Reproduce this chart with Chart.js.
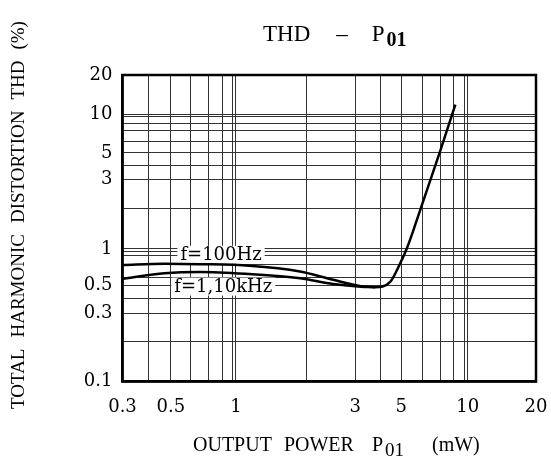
<!DOCTYPE html>
<html>
<head>
<meta charset="utf-8">
<script src="https://cdn.jsdelivr.net/npm/chart.js@4.4.1/dist/chart.umd.min.js"></script>
<style>
html, body { margin: 0; padding: 0; background: #fff; }
#wrap { width: 551px; height: 463px; }
</style>
</head>
<body>
<div id="wrap"><canvas id="graficoTHD"></canvas></div>
<script>
// Potência de saída (mW) e THD (%)
const potencia100Hz = [0.3, 0.46, 0.66, 1.09, 1.82, 2.55, 3.38, 3.9, 4.55, 5.04, 5.39, 5.97, 7.55, 8.82];
const thd100Hz = [0.75, 0.765, 0.76, 0.74, 0.67, 0.58, 0.52, 0.511, 0.56, 0.774, 1.0, 1.64, 5.34, 12.0];
const potencia10kHz = [0.3, 0.46, 0.66, 1.09, 1.82, 2.55, 3.38, 3.9];
const thd10kHz = [0.59, 0.65, 0.665, 0.64, 0.595, 0.54, 0.515, 0.511];

// Linhas da grade como aparecem desenhadas no original
const gradeX = [0.39, 0.49, 0.6, 0.72, 0.83, 0.916, 0.95, 1.94, 3.19, 4.13, 5.09, 6.3, 7.56, 8.66, 9.63, 10];
const gradeY = [0.2, 0.324, 0.417, 0.525, 0.6, 0.75, 0.89, 0.95, 0.99, 2.0, 3.27, 4.2, 5.2, 6.3, 7.6, 8.7, 9.7, 10.1];

// Rótulos dos eixos (posição na grade e texto)
const rotulosXValor = [0.3, 0.49, 0.95, 3.19, 5.09, 10, 20];
const rotulosXTexto = ['0.3', '0.5', '1', '3', '5', '10', '20'];
const rotulosYValor = [0.1, 0.324, 0.525, 0.99, 3.27, 5.2, 10.1, 20];
const rotulosYTexto = ['0.1', '0.3', '0.5', '1', '3', '5', '10', '20'];

const serifa = '"Liberation Serif", "Times New Roman", serif';
const fonteTicks = { family: '"DejaVu Serif", serif', size: 18 };

function juntarTicks(grade, rotulos, min, max) {
    const todos = new Set([min, max, ...grade, ...rotulos]);
    return [...todos].sort((a, b) => a - b).map(v => ({ value: v }));
}

function pontos(xs, ys) {
    return xs.map((x, i) => ({ x: x, y: ys[i] }));
}

// Texto com subscrito (P01)
function textoComSub(ctx, partes, x, y) {
    partes.forEach(p => {
        ctx.font = p.font;
        ctx.fillText(p.t, x + (p.dx || 0), y + (p.dy || 0));
        x += ctx.measureText(p.t).width + (p.dx || 0) + (p.gap || 0);
    });
}

// Moldura, rótulos das curvas e títulos
const anotacoes = [
    { texto: 'f=100Hz', x: 0.816, y: 0.894 },
    { texto: 'f=1,10kHz', x: 0.835, y: 0.516 }
];

const pluginDesenho = {
    id: 'desenho',
    beforeDatasetsDraw(chart) {
        const ctx = chart.ctx;
        ctx.save();
        ctx.font = '18px "DejaVu Serif", serif';
        ctx.textAlign = 'center';
        ctx.textBaseline = 'middle';
        anotacoes.forEach(a => {
            const cx = chart.scales.x.getPixelForValue(a.x);
            const cy = chart.scales.y.getPixelForValue(a.y);
            const w = ctx.measureText(a.texto).width;
            ctx.fillStyle = '#fff';
            ctx.fillRect(cx - w / 2 - 3, cy - 9, w + 6, 18);
            ctx.fillStyle = '#000';
            ctx.fillText(a.texto, cx, cy + 1);
        });
        ctx.restore();
    },
    afterDraw(chart) {
        const ctx = chart.ctx;
        const a = chart.chartArea;
        ctx.save();
        ctx.strokeStyle = '#000';
        ctx.lineWidth = 2.5;
        ctx.strokeRect(a.left, a.top, a.right - a.left, a.bottom - a.top);

        ctx.fillStyle = '#000';
        ctx.textBaseline = 'alphabetic';
        ctx.textAlign = 'left';

        // título
        textoComSub(ctx, [
            { t: 'THD', font: '23px ' + serifa, gap: 26 },
            { t: '\u2013', font: '23px ' + serifa, gap: 24 },
            { t: 'P', font: '23px ' + serifa },
            { t: '01', font: 'bold 20px ' + serifa, dx: 2, dy: 5 }
        ], 263, 41);

        // título do eixo x
        textoComSub(ctx, [
            { t: 'OUTPUT', font: '20px ' + serifa, gap: 12 },
            { t: 'POWER', font: '20px ' + serifa, gap: 18 },
            { t: 'P', font: '20px ' + serifa },
            { t: '01', font: '19px ' + serifa, dx: 2, dy: 5, gap: 28 },
            { t: '(mW)', font: '20px ' + serifa }
        ], 193, 451);

        // título do eixo y (vertical)
        ctx.translate(24, 215);
        ctx.rotate(-Math.PI / 2);
        ctx.font = '19px ' + serifa;
        const palavras = ['TOTAL', 'HARMONIC', 'DISTORTION', 'THD', '(%)'];
        const espaco = 11;
        const larguras = palavras.map(p => ctx.measureText(p).width);
        let total = larguras.reduce((s, w) => s + w, 0) + espaco * (palavras.length - 1);
        let px = -total / 2;
        palavras.forEach((p, i) => {
            ctx.fillText(p, px, 0);
            px += larguras[i] + espaco;
        });
        ctx.restore();
    }
};

const ctx = document.getElementById('graficoTHD').getContext('2d');
new Chart(ctx, {
    type: 'line',
    data: {
        datasets: [
            {
                label: 'f=100Hz',
                data: pontos(potencia100Hz, thd100Hz),
                borderColor: '#000',
                borderWidth: 2.5,
                pointRadius: 0,
                cubicInterpolationMode: 'monotone',
                fill: false
            },
            {
                label: 'f=1,10kHz',
                data: pontos(potencia10kHz, thd10kHz),
                borderColor: '#000',
                borderWidth: 2.5,
                pointRadius: 0,
                cubicInterpolationMode: 'monotone',
                fill: false
            }
        ]
    },
    options: {
        responsive: true,
        maintainAspectRatio: false,
        animation: false,
        layout: { padding: { left: 0, right: 15, top: 75, bottom: 0 } },
        plugins: {
            legend: { display: false },
            tooltip: { enabled: false }
        },
        scales: {
            x: {
                type: 'logarithmic',
                min: 0.3,
                max: 20,
                afterBuildTicks: eixo => { eixo.ticks = juntarTicks(gradeX, rotulosXValor, 0.3, 20); },
                afterFit: eixo => {
                    eixo.height = 81.5;
                    eixo.paddingLeft = 0;
                    eixo.paddingRight = 0;
                },
                grid: { color: '#333', lineWidth: 1, drawTicks: false },
                border: { display: true, color: '#000', width: 2.5 },
                ticks: {
                    autoSkip: false,
                    maxRotation: 0,
                    padding: 15,
                    color: '#000',
                    font: fonteTicks,
                    callback: v => {
                        const i = rotulosXValor.indexOf(v);
                        return i >= 0 ? rotulosXTexto[i] : '';
                    }
                }
            },
            y: {
                type: 'logarithmic',
                min: 0.1,
                max: 20,
                afterBuildTicks: eixo => { eixo.ticks = juntarTicks(gradeY, rotulosYValor, 0.1, 20); },
                afterFit: eixo => { eixo.width = 122.5; },
                grid: { color: '#333', lineWidth: 1, drawTicks: false },
                border: { display: true, color: '#000', width: 2.5 },
                ticks: {
                    autoSkip: false,
                    padding: 10,
                    color: '#000',
                    font: fonteTicks,
                    callback: v => {
                        const i = rotulosYValor.indexOf(v);
                        return i >= 0 ? rotulosYTexto[i] : '';
                    }
                }
            }
        }
    },
    plugins: [pluginDesenho]
});
</script>
</body>
</html>
